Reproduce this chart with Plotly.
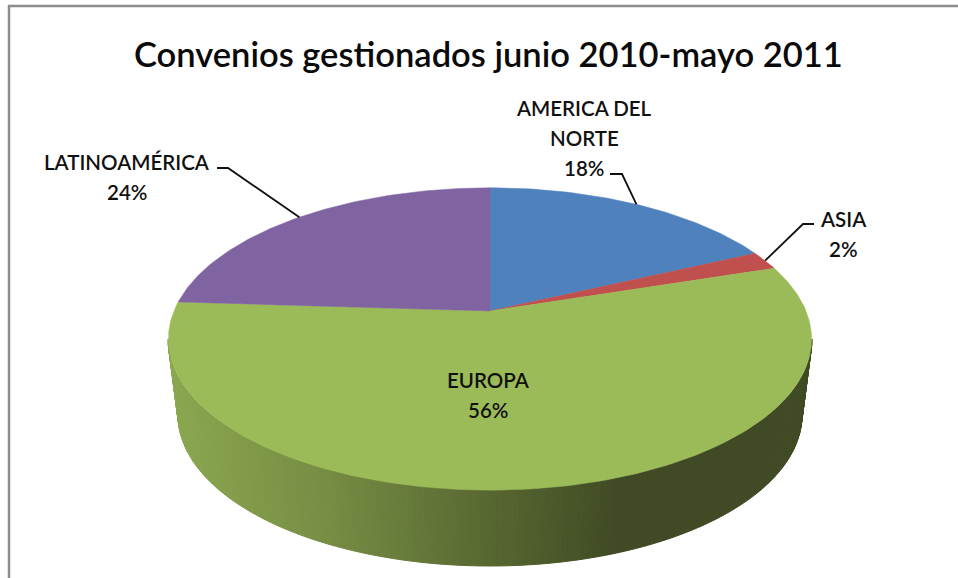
import numpy as np
import plotly.graph_objects as go

TITLE = "Convenios gestionados junio 2010-mayo 2011"
regions = ["AMERICA DEL NORTE", "ASIA", "EUROPA", "LATINOAMÉRICA"]
shares = [18, 2, 56, 24]
colors = ["#4f81bd", "#c0504d", "#9bbb59", "#8064a2"]

label_lines = [["AMERICA DEL", "NORTE", "18%"], ["ASIA", "2%"], ["EUROPA", "56%"], ["LATINOAMÉRICA", "24%"]]
label_pos = [(584, 108, 30), (843, 219, 30), (488, 380, 30), (127, 162, 30)]
leader_elbows = {0: [(610, 174), (622, 174)], 1: [(814, 224), (803, 224)], 3: [(217, 168), (228, 168)]}

# perspective disc projection
CX, CY = 490, 311
A, B, K = 146, 316, 0.185
DEPTH_TOP_CY, BOTTOM_CY, RX_TOP, RX_BOT, RY = 339, 415, 322, 312, 151


def project(theta):
    x, y = np.sin(theta), np.cos(theta)
    d = 1 + K * y
    return CX + B * x / d, CY - A * y / d


grad_x = [168, 330, 480, 620, 812]
grad_r = [0x8c, 0x76, 0x5a, 0x40, 0x40]
grad_g = [0xa8, 0x8d, 0x6a, 0x4a, 0x4a]
grad_b = [0x50, 0x44, 0x32, 0x25, 0x25]

fig = go.Figure()

# side wall of the disc, front half
ts = np.linspace(0, np.pi, 181)
for t0, t1 in zip(ts[:-1], ts[1:]):
    xs = [CX + RX_TOP * np.cos(t0), CX + RX_TOP * np.cos(t1), CX + RX_BOT * np.cos(t1), CX + RX_BOT * np.cos(t0), CX + RX_TOP * np.cos(t0)]
    ys = [DEPTH_TOP_CY + RY * np.sin(t0), DEPTH_TOP_CY + RY * np.sin(t1), BOTTOM_CY + RY * np.sin(t1), BOTTOM_CY + RY * np.sin(t0), DEPTH_TOP_CY + RY * np.sin(t0)]
    mx = np.mean(xs[:4])
    c = "rgb(%d,%d,%d)" % (np.interp(mx, grad_x, grad_r), np.interp(mx, grad_x, grad_g), np.interp(mx, grad_x, grad_b))
    fig.add_trace(go.Scatter(x=xs, y=ys, mode="lines", fill="toself", fillcolor=c, line=dict(color=c, width=1), hoverinfo="skip"))

# top slices
edges = np.cumsum([0] + shares) / sum(shares) * 2 * np.pi
for i, (name, color) in enumerate(zip(regions, colors)):
    th = np.linspace(edges[i], edges[i + 1], max(8, int(shares[i] * 4)))
    px, py = project(th)
    fig.add_trace(go.Scatter(x=[CX, *px, CX], y=[CY, *py, CY], mode="lines", fill="toself", fillcolor=color,
                             line=dict(color=color, width=0.5), name=name))

# leader lines
for i, elbow in leader_elbows.items():
    mid = (edges[i] + edges[i + 1]) / 2
    ex, ey = project(mid)
    xs = [p[0] for p in elbow] + [float(ex)]
    ys = [p[1] for p in elbow] + [float(ey)]
    fig.add_trace(go.Scatter(x=xs, y=ys, mode="lines", line=dict(color="#111111", width=1.8), hoverinfo="skip"))

annotations = [dict(x=488, y=53, text=TITLE, showarrow=False, xanchor="center", yanchor="middle",
                    font=dict(family="Lato", size=34.5, color="#0a0a0a", weight=600))]
for lines, (lx, ly, step) in zip(label_lines, label_pos):
    for j, line in enumerate(lines):
        annotations.append(dict(x=lx, y=ly + j * step, text=line, showarrow=False, xanchor="center", yanchor="middle",
                                font=dict(family="Lato", size=20.5, color="#111111", weight=600)))

frame = "#8c8c8c"
fig.update_layout(
    width=958, height=578, margin=dict(l=0, r=0, t=0, b=0), showlegend=False,
    paper_bgcolor="white", plot_bgcolor="white",
    xaxis=dict(range=[0, 958], visible=False, fixedrange=True),
    yaxis=dict(range=[578, 0], visible=False, fixedrange=True),
    annotations=annotations,
    shapes=[
        dict(type="line", xref="x", yref="y", x0=9, x1=9, y0=5, y1=578, line=dict(color=frame, width=2.5)),
        dict(type="line", xref="x", yref="y", x0=8, x1=958, y0=6, y1=6, line=dict(color=frame, width=2.5)),
    ],
)
fig.write_html("out.html", config={"displayModeBar": False}, post_script="document.body.style.margin='0';")
